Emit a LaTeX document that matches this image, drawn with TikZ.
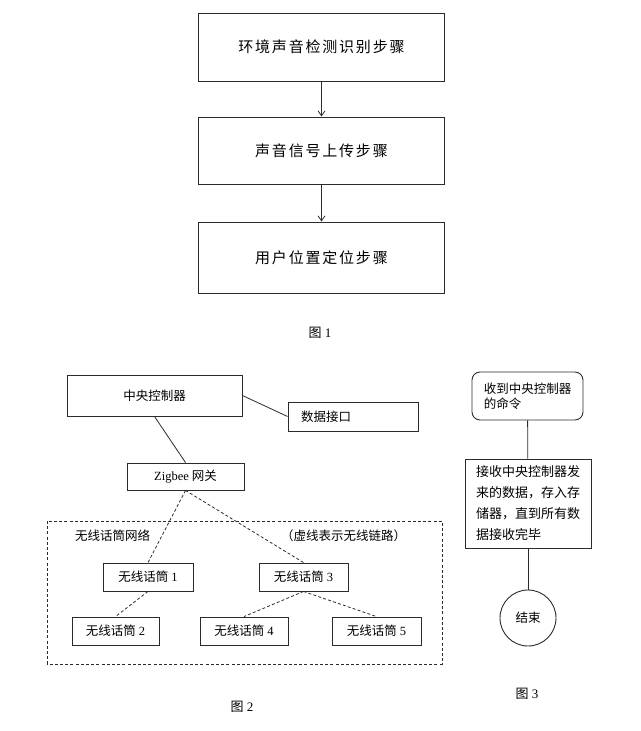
\documentclass[tikz,border=0pt]{standalone}
\usepackage{fontspec}
\setmainfont{Liberation Serif}
\newfontfamily\cjk{Noto Sans CJK SC}
\newfontfamily\cjkwide[LetterSpace=12]{Noto Sans CJK SC}
\usetikzlibrary{arrows.meta,positioning}
\definecolor{ink}{HTML}{2B2B2B}
\tikzset{
  stepbox/.style={draw=ink, line width=1pt, minimum width=246pt, minimum height=68pt, font=\fontsize{15}{17}\cjkwide},
  unit/.style={draw=ink, line width=0.9pt, inner sep=0pt, font=\fontsize{12.5}{15}\cjk},
  flow/.style={-{Straight Barb[length=5pt,width=7pt]}, draw=ink, line width=0.8pt},
  wire/.style={draw=ink, line width=0.8pt},
  radio/.style={draw=ink, line width=0.8pt, dash pattern=on 3pt off 2.2pt},
  caption/.style={font=\fontsize{13}{15}\selectfont},
  lbl/.style={font=\fontsize{12.5}{15}\cjk, inner sep=0pt},
}
\newcommand{\mic}[1]{无线话筒 {\rmfamily #1}}
\begin{document}
\begin{tikzpicture}[x=1pt,y=-1pt]
  \useasboundingbox (0,0) rectangle (640,731);
  % figure 1
  \node[stepbox] (detect) at (321.5,47) {环境声音检测识别步骤};
  \node[stepbox, minimum height=67pt] (upload) at (321.5,150.5) {声音信号上传步骤};
  \node[stepbox, minimum height=71pt] (locate) at (321.5,257.5) {用户位置定位步骤};
  \draw[flow] (detect) -- (upload);
  \draw[flow] (upload) -- (locate);
  \node[caption] (cap1) at (320,333) {{\cjk 图} 1};
  % figure 2
  \node[unit, minimum width=175pt, minimum height=41pt] (ctrl) at (154.5,395.5) {中央控制器};
  \node[unit, minimum width=130pt, minimum height=29pt, text width=104pt] (port) at (353,416.5) {数据接口};
  \node[unit, minimum width=117pt, minimum height=27pt] (gate) at (185.5,476.5) {{\rmfamily Zigbee} 网关};
  \draw[radio] (47,521) rectangle (442,664);
  \node[lbl, anchor=west] (netlbl) at (75,536) {无线话筒网络};
  \node[lbl, anchor=west] (note) at (281,536) {（虚线表示无线链路）};
  \node[unit, minimum width=90pt, minimum height=28pt] (m1) at (148,577) {\mic{1}};
  \node[unit, minimum width=89pt, minimum height=28pt] (m3) at (303.5,577) {\mic{3}};
  \node[unit, minimum width=87pt, minimum height=28pt] (m2) at (115.5,631) {\mic{2}};
  \node[unit, minimum width=88pt, minimum height=28pt] (m4) at (244,631) {\mic{4}};
  \node[unit, minimum width=89pt, minimum height=28pt] (m5) at (376.5,631) {\mic{5}};
  \draw[wire] (ctrl.east) -- (port.west);
  \draw[wire] (ctrl.south) -- (gate.north);
  \draw[radio] (gate.south) -- (m1.north);
  \draw[radio] (gate.south) -- (m3.north);
  \draw[radio] (m1.south) -- (m2.north);
  \draw[radio] (m3.south) -- (m4.north);
  \draw[radio] (m3.south) -- (m5.north);
  \node[caption] (cap2) at (242,707) {{\cjk 图} 2};
  % figure 3
  \node[unit, rounded corners=8pt, minimum width=111pt, minimum height=48pt, align=left] (cmd) at (527.5,396) {收到中央控制器\\的命令};
  \node[unit, minimum width=126pt, minimum height=89pt, align=left, font=\fontsize{13}{21}\cjk] (recv) at (528,503.5) {接收中央控制器发\\来的数据，存入存\\储器，直到所有数\\据接收完毕};
  \node[unit, circle, minimum size=56pt] (done) at (528,618) {结束};
  \draw[wire] (cmd) -- (recv);
  \draw[wire] (recv) -- (done);
  \node[caption] (cap3) at (527,694) {{\cjk 图} 3};
\end{tikzpicture}
\end{document}
